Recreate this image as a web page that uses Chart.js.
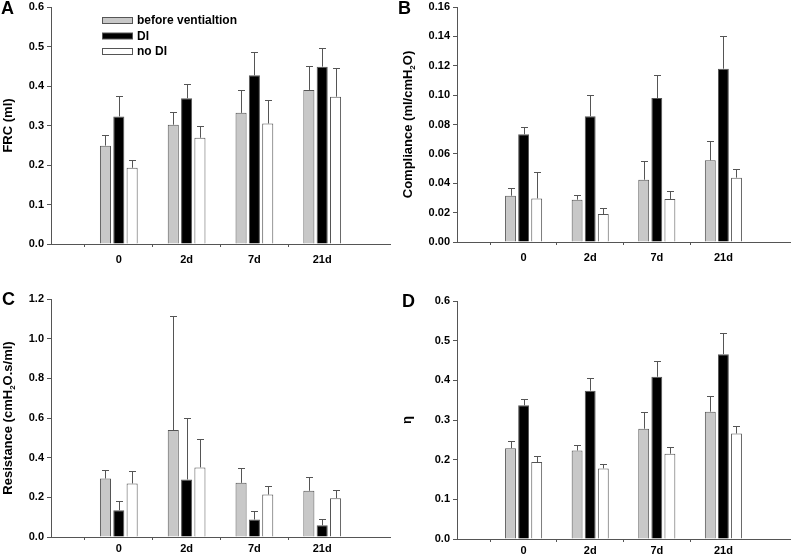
<!DOCTYPE html>
<html>
<head>
<meta charset="utf-8">
<script src="https://cdn.jsdelivr.net/npm/chart.js@4.4.0/dist/chart.umd.min.js"></script>
<style>
html, body { margin: 0; padding: 0; background: #fff; }
#wrap { position: relative; width: 800px; height: 555px; overflow: hidden; }
canvas { position: absolute; }
</style>
</head>
<body>
<div id="wrap">
  <canvas id="pA" width="400" height="270" style="left:0;top:0"></canvas>
  <canvas id="pB" width="405" height="270" style="left:395px;top:0"></canvas>
  <canvas id="pC" width="400" height="285" style="left:0;top:270px"></canvas>
  <canvas id="pD" width="405" height="285" style="left:395px;top:270px"></canvas>
</div>
<script>
const categories = ['0', '2d', '7d', '21d'];
const seriesNames = ['before ventialtion', 'DI', 'no DI'];

// A - FRC (ml)
const frcBefore = [0.249, 0.302, 0.332, 0.390];
const frcBeforeErr = [0.026, 0.031, 0.058, 0.061];
const frcDI = [0.323, 0.369, 0.427, 0.449];
const frcDIErr = [0.051, 0.037, 0.058, 0.047];
const frcNoDI = [0.193, 0.269, 0.305, 0.373];
const frcNoDIErr = [0.020, 0.030, 0.059, 0.072];

// B - Compliance (ml/cmH2O)
const compBefore = [0.0315, 0.0288, 0.0424, 0.0556];
const compBeforeErr = [0.0053, 0.0030, 0.0130, 0.0129];
const compDI = [0.0733, 0.0856, 0.0980, 0.1180];
const compDIErr = [0.0047, 0.0147, 0.0160, 0.0220];
const compNoDI = [0.0297, 0.0190, 0.0293, 0.0438];
const compNoDIErr = [0.0177, 0.0042, 0.0057, 0.0061];

// C - Resistance (cmH2O.s/ml)
const resBefore = [0.295, 0.539, 0.273, 0.233];
const resBeforeErr = [0.044, 0.573, 0.073, 0.069];
const resDI = [0.135, 0.290, 0.088, 0.059];
const resDIErr = [0.047, 0.310, 0.042, 0.034];
const resNoDI = [0.270, 0.351, 0.214, 0.196];
const resNoDIErr = [0.064, 0.143, 0.044, 0.040];

// D - eta
const etaBefore = [0.229, 0.223, 0.278, 0.321];
const etaBeforeErr = [0.018, 0.015, 0.042, 0.039];
const etaDI = [0.337, 0.374, 0.409, 0.466];
const etaDIErr = [0.017, 0.032, 0.040, 0.054];
const etaNoDI = [0.194, 0.178, 0.215, 0.266];
const etaNoDIErr = [0.015, 0.010, 0.018, 0.018];

const fills = ['#c8c8c8', '#000000', '#ffffff'];
const edge = '#555555';
const FONT = '"Liberation Sans", Arial, sans-serif';

Chart.defaults.font.family = FONT;
Chart.defaults.font.weight = 'bold';
Chart.defaults.font.size = 11;
Chart.defaults.color = '#000';

// empty slot on each side so the groups sit at 1..4 of 0..5
const pad = a => [null, ...a, null];

const errorBarPlugin = {
  id: 'errorBars',
  afterDatasetsDraw(chart, args, opts) {
    const ctx = chart.ctx, y = chart.scales.y;
    ctx.save();
    ctx.strokeStyle = opts.color;
    ctx.lineWidth = 1;
    opts.errors.forEach((errs, di) => {
      const vals = chart.data.datasets[di].data;
      chart.getDatasetMeta(di).data.forEach((bar, i) => {
        if (vals[i] == null) return;
        const top = Math.round(y.getPixelForValue(vals[i] + errs[i])) + 0.5;
        const x = Math.round(bar.x) + 0.5;
        ctx.beginPath();
        ctx.moveTo(x, bar.y);
        ctx.lineTo(x, top);
        ctx.moveTo(x - opts.cap, top);
        ctx.lineTo(x + opts.cap, top);
        ctx.stroke();
      });
    });
    ctx.restore();
  }
};

const decorPlugin = {
  id: 'decor',
  afterDraw(chart, args, o) {
    const ctx = chart.ctx, area = chart.chartArea;
    ctx.save();
    ctx.fillStyle = '#000';
    ctx.textAlign = 'left';
    ctx.textBaseline = 'alphabetic';
    ctx.font = 'bold 18px ' + FONT;
    ctx.fillText(o.letter, o.letterX, o.letterY);

    // rotated y title, with subscripts
    ctx.save();
    ctx.translate(o.titleX, (area.top + area.bottom) / 2);
    ctx.rotate(-Math.PI / 2);
    const main = 'bold 13px ' + FONT, sub = 'bold 8px ' + FONT;
    let w = 0;
    o.title.forEach(s => { ctx.font = s.sub ? sub : main; w += ctx.measureText(s.t).width; });
    let x = -w / 2;
    o.title.forEach(s => {
      ctx.font = s.sub ? sub : main;
      ctx.fillText(s.t, x, s.sub ? 3 : 0);
      x += ctx.measureText(s.t).width;
    });
    ctx.restore();

    if (o.legend) {
      ctx.font = 'bold 12px ' + FONT;
      ctx.textBaseline = 'middle';
      ctx.strokeStyle = edge;
      ctx.lineWidth = 1;
      chart.data.datasets.forEach((ds, i) => {
        const cy = o.legend.y + i * o.legend.gap;
        ctx.fillStyle = ds.backgroundColor;
        ctx.fillRect(o.legend.x + 0.5, cy - 3 + 0.5, 30, 6);
        ctx.strokeRect(o.legend.x + 0.5, cy - 3 + 0.5, 30, 6);
        ctx.fillStyle = '#000';
        ctx.fillText(ds.label, o.legend.x + 35, cy + 1);
      });
    }
    ctx.restore();
  }
};

function makePanel(id, o) {
  return new Chart(document.getElementById(id), {
    type: 'bar',
    data: {
      labels: ['', ...categories, ''],
      datasets: o.values.map((v, i) => ({
        label: seriesNames[i],
        data: pad(v),
        backgroundColor: fills[i],
        borderColor: edge,
        borderWidth: 1,
        categoryPercentage: 0.59,
        barPercentage: 0.83
      }))
    },
    options: {
      responsive: false,
      animation: false,
      layout: { padding: { top: o.top, right: o.right, left: 0, bottom: 0 } },
      plugins: {
        legend: { display: false },
        tooltip: { enabled: false },
        errorBars: { errors: o.errors.map(pad), color: edge, cap: 3.5 },
        decor: o.decor
      },
      scales: {
        x: {
          offset: false,
          grid: {
            drawOnChartArea: false,
            tickLength: 3,
            color: c => (c.index === 0 || c.index === 5) ? 'rgba(0,0,0,0)' : edge
          },
          border: { color: edge },
          ticks: { padding: o.xPad, autoSkip: false, maxRotation: 0 },
          afterFit: s => { s.height = o.xHeight; s.paddingLeft = 0; s.paddingRight = 0; }
        },
        y: {
          min: 0,
          max: o.max,
          ticks: { stepSize: o.step, padding: 3, callback: v => v.toFixed(o.dec) },
          grid: { drawOnChartArea: false, tickLength: 4, color: edge },
          border: { color: edge },
          afterFit: s => { s.width = o.left; s.paddingTop = 0; s.paddingBottom = 0; }
        }
      }
    },
    plugins: [errorBarPlugin, decorPlugin]
  });
}

makePanel('pA', {
  values: [frcBefore, frcDI, frcNoDI],
  errors: [frcBeforeErr, frcDIErr, frcNoDIErr],
  max: 0.6, step: 0.1, dec: 1,
  left: 51, top: 7, right: 10, xHeight: 26, xPad: 6,
  decor: {
    letter: 'A', letterX: 1, letterY: 14, titleX: 12,
    title: [{ t: 'FRC (ml)' }],
    legend: { x: 102, y: 20, gap: 15.5 }
  }
});

makePanel('pB', {
  values: [compBefore, compDI, compNoDI],
  errors: [compBeforeErr, compDIErr, compNoDIErr],
  max: 0.16, step: 0.02, dec: 2,
  left: 62, top: 7, right: 10, xHeight: 28, xPad: 6,
  decor: {
    letter: 'B', letterX: 3, letterY: 14, titleX: 17,
    title: [{ t: 'Compliance (ml/cmH' }, { t: '2', sub: true }, { t: 'O)' }]
  }
});

makePanel('pC', {
  values: [resBefore, resDI, resNoDI],
  errors: [resBeforeErr, resDIErr, resNoDIErr],
  max: 1.2, step: 0.2, dec: 1,
  left: 51, top: 29, right: 10, xHeight: 18, xPad: 2,
  decor: {
    letter: 'C', letterX: 2, letterY: 35, titleX: 12,
    title: [{ t: 'Resistance (cmH' }, { t: '2', sub: true }, { t: 'O.s/ml)' }]
  }
});

makePanel('pD', {
  values: [etaBefore, etaDI, etaNoDI],
  errors: [etaBeforeErr, etaDIErr, etaNoDIErr],
  max: 0.6, step: 0.1, dec: 1,
  left: 62, top: 31, right: 10, xHeight: 16, xPad: 2,
  decor: {
    letter: 'D', letterX: 7, letterY: 37, titleX: 16,
    title: [{ t: 'η' }]
  }
});
</script>
</body>
</html>
